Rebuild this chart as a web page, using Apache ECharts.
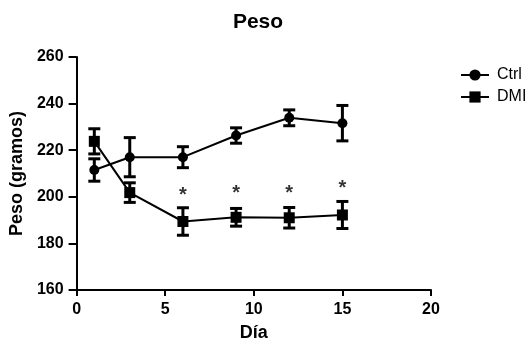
<!DOCTYPE html>
<html>
<head>
<meta charset="utf-8">
<script src="https://cdn.jsdelivr.net/npm/echarts@6/dist/echarts.min.js"></script>
<style>
  html, body { margin: 0; padding: 0; background: #fff; }
  #chart { width: 532px; height: 347px; }
</style>
</head>
<body>
<div id="chart"></div>
<script>
// dias del experimento
const dias = [1, 3, 6, 9, 12, 15]
// peso medio (g) y error
const ctrlPeso = [211.5, 217, 217, 226.3, 233.9, 231.6]
const ctrlErr = [4.8, 8.4, 4.5, 3.3, 3.4, 7.6]
const dmiPeso = [223.8, 201.8, 189.4, 191.2, 191, 192.2]
const dmiErr = [5.4, 4.2, 5.9, 3.8, 4.4, 5.8]
// asteriscos de significancia
const estrellaDias = [6, 9, 12, 15]
const estrellaY = [202.3, 203, 203, 205.2]

const xTicks = [0, 5, 10, 15, 20]
const yTicks = [160, 180, 200, 220, 240, 260]

const font = 'Liberation Sans, Arial, sans-serif'

function pares (xs, ys) {
  return xs.map((x, i) => [x, ys[i]])
}

function barras (xs, ys, es) {
  return xs.map((x, i) => [x, ys[i] - es[i], ys[i] + es[i]])
}

function renderError (params, api) {
  const x = api.value(0)
  const lo = api.coord([x, api.value(1)])
  const hi = api.coord([x, api.value(2)])
  const half = 6
  const st = { stroke: '#000', lineWidth: 3 }
  return {
    type: 'group',
    children: [
      { type: 'line', shape: { x1: lo[0], y1: lo[1], x2: hi[0], y2: hi[1] }, style: st },
      { type: 'line', shape: { x1: lo[0] - half, y1: lo[1], x2: lo[0] + half, y2: lo[1] }, style: st },
      { type: 'line', shape: { x1: hi[0] - half, y1: hi[1], x2: hi[0] + half, y2: hi[1] }, style: st }
    ]
  }
}

const myChart = echarts.init(document.getElementById('chart'))
myChart.setOption({
  animation: false,
  backgroundColor: '#fff',
  title: {
    text: 'Peso',
    left: 253,
    top: 7,
    textAlign: 'center',
    textStyle: { fontFamily: font, fontSize: 21, fontWeight: 'bold', color: '#000' }
  },
  legend: {
    orient: 'vertical',
    left: 455,
    top: 62,
    itemWidth: 28,
    itemHeight: 14,
    itemGap: 6,
    data: ['Ctrl', 'DMI'],
    textStyle: { fontFamily: font, fontSize: 16, color: '#000', padding: [0, 0, 0, 3] }
  },
  grid: { left: 76, right: 101, top: 57, bottom: 55 },
  xAxis: {
    type: 'value',
    min: xTicks[0],
    max: xTicks[xTicks.length - 1],
    interval: 5,
    name: 'Día',
    nameLocation: 'middle',
    nameGap: 34,
    nameTextStyle: { fontFamily: font, fontSize: 18, fontWeight: 'bold', color: '#000' },
    axisLine: { lineStyle: { color: '#000', width: 2 } },
    axisTick: { length: 6, lineStyle: { color: '#000', width: 2 } },
    axisLabel: { fontFamily: font, fontSize: 16, fontWeight: 'bold', color: '#000', margin: 12 },
    splitLine: { show: false }
  },
  yAxis: {
    type: 'value',
    min: yTicks[0],
    max: yTicks[yTicks.length - 1],
    interval: 20,
    name: 'Peso (gramos)',
    nameLocation: 'middle',
    nameGap: 48,
    nameTextStyle: { fontFamily: font, fontSize: 18, fontWeight: 'bold', color: '#000' },
    axisLine: { show: true, lineStyle: { color: '#000', width: 2 } },
    axisTick: { show: true, length: 8, lineStyle: { color: '#000', width: 2 } },
    axisLabel: { fontFamily: font, fontSize: 16, fontWeight: 'bold', color: '#000', margin: 13 },
    splitLine: { show: false }
  },
  series: [
    {
      name: 'Ctrl',
      type: 'line',
      data: pares(dias, ctrlPeso),
      symbol: 'circle',
      symbolSize: 10,
      color: '#000',
      lineStyle: { color: '#000', width: 2 },
      itemStyle: { color: '#000' },
      z: 3
    },
    {
      name: 'DMI',
      type: 'line',
      data: pares(dias, dmiPeso),
      symbol: 'rect',
      symbolSize: 11,
      color: '#000',
      lineStyle: { color: '#000', width: 2 },
      itemStyle: { color: '#000' },
      z: 3
    },
    {
      type: 'custom',
      renderItem: renderError,
      data: barras(dias, ctrlPeso, ctrlErr),
      z: 4
    },
    {
      type: 'custom',
      renderItem: renderError,
      data: barras(dias, dmiPeso, dmiErr),
      z: 4
    },
    {
      type: 'scatter',
      data: pares(estrellaDias, estrellaY),
      symbolSize: 1,
      itemStyle: { color: 'rgba(0,0,0,0)' },
      label: {
        show: true,
        position: 'inside',
        formatter: '*',
        offset: [0, 4],
        fontFamily: font,
        fontSize: 20,
        fontWeight: 'bold',
        color: '#000'
      },
      silent: true,
      z: 5
    }
  ]
})
</script>
</body>
</html>
